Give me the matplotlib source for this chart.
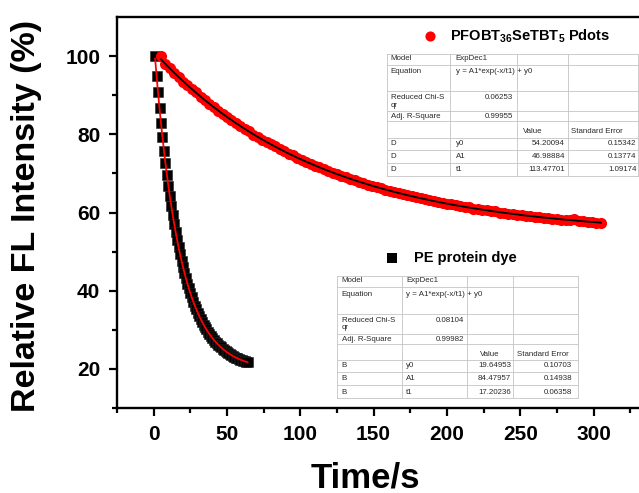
import numpy as np
import matplotlib
matplotlib.use("Agg")
import matplotlib.pyplot as plt
from matplotlib.lines import Line2D

plt.rcParams['font.family'] = ['Liberation Sans', 'DejaVu Sans']
plt.rcParams['mathtext.fontset'] = 'custom'
plt.rcParams['mathtext.rm'] = 'Liberation Sans:bold'

# PE protein dye, one point per second from t = 1 s
pe_time = np.arange(1, 65)
pe_signal = [100.0, 94.9, 90.7, 86.7, 82.8, 79.2, 75.8, 72.7, 69.7, 66.9,
             64.2, 61.7, 59.3, 57.1, 55.0, 53.0, 51.1, 49.3, 47.6, 46.1,
             44.6, 43.2, 41.8, 40.6, 39.4, 38.3, 37.2, 36.2, 35.3, 34.4,
             33.6, 32.8, 32.0, 31.3, 30.7, 30.1, 29.5, 28.9, 28.4, 27.9,
             27.4, 27.0, 26.6, 26.2, 25.8, 25.5, 25.1, 24.8, 24.5, 24.3,
             24.0, 23.8, 23.5, 23.3, 23.1, 22.9, 22.7, 22.5, 22.4, 22.2,
             22.1, 21.9, 21.8, 21.7]

# Pdots, one point every 3 s from t = 5 s
pdot_time = np.arange(5, 306, 3)
pdot_signal = [100.0, 98.1, 96.9, 95.6, 94.7, 93.5, 92.6, 91.5, 90.7, 89.6,
               88.8, 87.8, 87.0, 86.0, 85.3, 84.4, 83.7, 82.8, 82.2, 81.3,
               80.8, 79.9, 79.4, 78.6, 78.1, 77.4, 76.9, 76.2, 75.7, 75.0,
               74.6, 73.9, 73.5, 73.0, 72.5, 72.0, 71.6, 71.1, 70.7, 70.2,
               69.9, 69.4, 69.0, 68.6, 68.3, 67.8, 67.6, 67.1, 66.9, 66.5,
               66.2, 65.8, 65.6, 65.2, 65.0, 64.7, 64.5, 64.1, 63.9, 63.6,
               63.4, 63.1, 63.0, 62.7, 62.5, 62.2, 62.1, 61.8, 61.7, 61.4,
               61.3, 61.0, 60.9, 60.7, 60.6, 60.3, 60.3, 60.0, 60.0, 59.7,
               59.7, 59.4, 59.4, 59.1, 59.1, 58.9, 58.9, 58.6, 58.7, 58.4,
               58.4, 58.2, 58.2, 58.0, 58.3, 57.8, 57.8, 57.6, 57.6, 57.4,
               57.4]

# ExpDec1 fit results shown in the two tables
pdot_fit = {'y0': (54.20094, 0.15342), 'A1': (46.98884, 0.13774),
            't1': (113.47701, 1.09174), 'chi': 0.06253, 'r2': 0.99955}
pe_fit = {'y0': (19.64953, 0.10703), 'A1': (84.47957, 0.14938),
          't1': (17.20236, 0.06358), 'chi': 0.08104, 'r2': 0.99982}

W, H = 639, 493
fig = plt.figure(figsize=(W / 100, H / 100), dpi=100)
ax = fig.add_axes([117 / W, 1 - 408 / H, 1 - 117 / W, (408 - 17) / H])


def expdec(t, p):
    return p['A1'][0] * np.exp(-t / p['t1'][0]) + p['y0'][0]


ax.plot(pe_time, pe_signal, 's', color='black', markersize=6.6,
        markeredgecolor='#222222', markeredgewidth=0.4, zorder=2)
ax.plot(pdot_time, pdot_signal, 'o', color='#ff0000', markersize=8,
        markeredgewidth=0, zorder=3)

tt = np.linspace(pe_time[0], pe_time[-1], 200)
ax.plot(tt, expdec(tt, pe_fit), color='#ff0000', lw=1.3, zorder=4)
tt = np.linspace(pdot_time[0], pdot_time[-1], 300)
ax.plot(tt, expdec(tt, pdot_fit), color='black', lw=1.3, zorder=4)

ax.set_xlim(-24.7, 331)
ax.set_ylim(10, 110)
ax.set_xticks([0, 50, 100, 150, 200, 250, 300])
ax.set_xticks(np.arange(-25, 331, 25), minor=True)
ax.set_yticks([20, 40, 60, 80, 100])
ax.set_yticks([10, 30, 50, 70, 90], minor=True)
ax.spines['right'].set_visible(False)
for s in ['left', 'bottom', 'top']:
    ax.spines[s].set_linewidth(1.7)
ax.tick_params(which='major', direction='out', length=6, width=1.6,
               labelsize=15, pad=6)
ax.tick_params(which='minor', direction='out', length=3.5, width=1.6)
for lbl in ax.get_xticklabels() + ax.get_yticklabels():
    lbl.set_fontweight('bold')

ax.set_xlabel('Time/s', fontsize=25, fontweight='bold')
ax.xaxis.label.set_va('center')
ax.xaxis.set_label_coords((365 - 117) / (W - 117), (408 - 478) / 391)
ax.set_ylabel('Relative FL Intensity (%)', fontsize=24.5, fontweight='bold')
ax.yaxis.label.set_va('center')
ax.yaxis.set_label_coords((27 - 117) / (W - 117), (408 - 216) / 391)


def fx(x):
    return x / W


def fy(y):
    return 1 - y / H


# legend entries
fig.add_artist(Line2D([fx(430.5)], [fy(35.7)], marker='o', color='#ff0000',
                      markersize=7.3, markeredgewidth=0))
fig.text(fx(450), fy(36), r'PFOBT$_\mathrm{36}$SeTBT$_\mathrm{5}$ Pdots',
         fontsize=10.5, fontweight='bold', va='center')
fig.add_artist(Line2D([fx(392)], [fy(258)], marker='s', color='black',
                      markersize=6.5, markeredgewidth=0))
fig.text(fx(414), fy(258), 'PE protein dye', fontsize=10.5,
         fontweight='bold', va='center')


def draw_table(ref, borders, anchors, p, tag):
    hl = [-4.5, 6.3, 33, 53, 63, 79.6, 91.3, 104.6, 117.3]
    grid = dict(color='#c4c4c4', lw=0.6)
    for h in hl:
        fig.add_artist(Line2D([fx(borders[0]), fx(borders[-1])],
                              [fy(ref + h)] * 2, **grid))
    for b in borders:
        fig.add_artist(Line2D([fx(b)] * 2, [fy(ref + hl[0]), fy(ref + hl[-1])],
                              **grid))
    c1, c2, chi_r, val_l, se_l, val_r, err_r = anchors
    kw = dict(fontsize=5.7, color='#2a2a2a', va='center')

    def put(x, y, s, ha='left'):
        fig.text(fx(x), fy(ref + y), s, ha=ha, **kw)

    put(c1, 0, 'Model')
    put(c2, 0, 'ExpDec1')
    put(c1, 13.5, 'Equation')
    put(c2, 13.5, 'y = A1*exp(-x/t1) + y0')
    put(c1, 39.3, 'Reduced Chi-S')
    put(c1, 46.8, 'qr')
    put(chi_r, 39.3, f"{p['chi']:.5f}", 'right')
    put(c1, 58.5, 'Adj. R-Square')
    put(chi_r, 58.5, f"{p['r2']:.5f}", 'right')
    put(val_l, 73.5, 'Value')
    put(se_l, 73.5, 'Standard Error')
    for y, name in zip([85.2, 98.3, 111.5], ['y0', 'A1', 't1']):
        put(c1, y, tag)
        put(c2, y, name)
        put(val_r, y, f"{p[name][0]:.5f}", 'right')
        put(err_r, y, f"{p[name][1]:.5f}", 'right')


draw_table(58.3, [387.3, 450, 516.7, 568.3, 638.3],
           [390.7, 455.5, 513.3, 523, 570.7, 565, 636.7], pdot_fit, 'D')
draw_table(280.7, [336.7, 401.7, 466.7, 513, 578.3],
           [341.5, 406, 464, 480, 516.7, 511, 572], pe_fit, 'B')

fig.savefig('out.png', dpi=100)
